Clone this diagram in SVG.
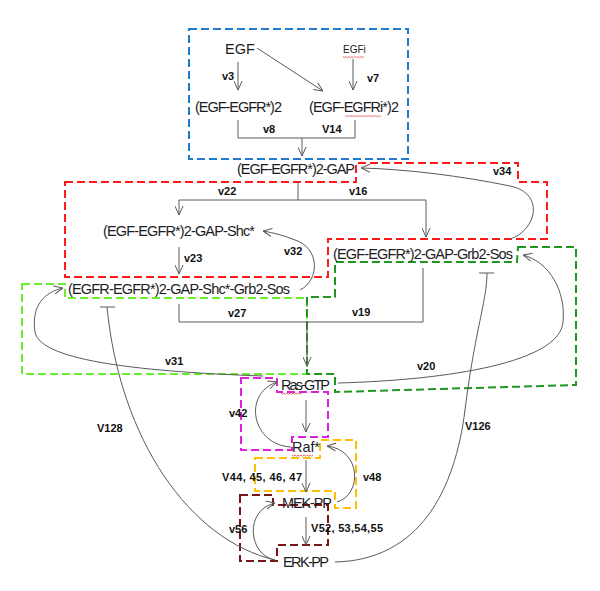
<svg xmlns="http://www.w3.org/2000/svg" width="600" height="591" viewBox="0 0 600 591">
<style>
.n{font-family:"Liberation Sans",Arial,sans-serif;font-size:14.5px;fill:#1c1c24}
.l{font-family:"Liberation Sans",Arial,sans-serif;font-size:11px;font-weight:bold;fill:#111}
.c{fill:none;stroke:#5a5a5a;stroke-width:1}
.b{fill:none;stroke-width:2;stroke-dasharray:8,4}
.sq{fill:none;stroke:#e03030;stroke-width:0.7}
</style>
<defs>
<marker id="a" viewBox="0 0 10 10" refX="10" refY="5" markerWidth="9" markerHeight="9" orient="auto" markerUnits="userSpaceOnUse">
<path d="M0,0.5 L10,5 L0,9.5" fill="none" stroke="#5a5a5a" stroke-width="1.1"/>
</marker>
</defs>
<rect width="600" height="591" fill="#fff"/>
<g id="modules">
<rect class="b" x="189" y="29" width="219" height="130" stroke="#1f7ad0"/>
<polygon class="b" stroke="#ff1a1a" points="65,182 356,182 356,163 518,163 518,182 547,182 547,239 328,239 328,277 65,277"/>
<polygon class="b" stroke="#66ee33" points="22,284 65,284 65,298 307,298 307,374 22,374"/>
<polygon class="b" stroke="#1f961f" points="518,247 576,247 576,385 335,392 335,374 307,374 307,297 335,297 335,262 517,262"/>
<polygon class="b" stroke="#dd22dd" points="241,378 277,378 277,392 328,392 328,437 292,437 292,450 241,450"/>
<polygon class="b" stroke="#ffc000" points="255,458 320,458 320,440 356,440 356,508 335,508 335,491 255,491"/>
<polygon class="b" stroke="#7a1515" points="240,495 273,495 273,505 328,505 328,545 277,545 277,561 240,561"/>
</g>
<g id="connectors">
<path class="c" d="M238,62 V90" marker-end="url(#a)"/>
<path class="c" d="M257,48 L323,91" marker-end="url(#a)"/>
<path class="c" d="M353,59 V90" marker-end="url(#a)"/>
<path class="c" d="M238,120 V138 H355 V120"/>
<path class="c" d="M302,138 V156" marker-end="url(#a)"/>
<path class="c" d="M298,182 V200 M179,200 H426"/>
<path class="c" d="M179,200 V215" marker-end="url(#a)"/>
<path class="c" d="M426,200 V237" marker-end="url(#a)"/>
<path class="c" d="M179,247 V274" marker-end="url(#a)"/>
<path class="c" d="M300,290 C320,280 320,248 295,240 C285,236 275,233 263,231" marker-end="url(#a)"/>
<path class="c" d="M510,239 C537,230 545,193 510,186 C462,176 405,169 361,168" marker-end="url(#a)"/>
<path class="c" d="M179,304 V322 H423 V268"/>
<path class="c" d="M307,322 V366" marker-end="url(#a)"/>
<path class="c" d="M263,376 C150,372 40,362 35,332 C31,305 45,292 63,288" marker-end="url(#a)"/>
<path class="c" d="M338,383 C450,380 560,362 563,322 C566,292 550,262 523,255" marker-end="url(#a)"/>
<path class="c" d="M107,307 C120,440 190,540 275,560"/>
<path class="c" d="M100,307 H115"/>
<path class="c" d="M335,562 C420,560 455,490 465,410 C475,330 487,300 487,273"/>
<path class="c" d="M479,273 H494"/>
<path class="c" d="M306,400 V432" marker-end="url(#a)"/>
<path class="c" d="M291,447 C252,445 242,394 277,382" marker-end="url(#a)"/>
<path class="c" d="M306,460 V492" marker-end="url(#a)"/>
<path class="c" d="M337,502 C362,495 362,450 327,446" marker-end="url(#a)"/>
<path class="c" d="M306,517 V545" marker-end="url(#a)"/>
<path class="c" d="M275,560 C248,555 244,510 275,503" marker-end="url(#a)"/>
</g>
<g id="labels">
<text class="l" x="222" y="80">v3</text>
<text class="l" x="367" y="82">v7</text>
<text class="l" x="263" y="133">v8</text>
<text class="l" x="322" y="133">V14</text>
<text class="l" x="218" y="195">v22</text>
<text class="l" x="349" y="195">v16</text>
<text class="l" x="493" y="175">v34</text>
<text class="l" x="184" y="262">v23</text>
<text class="l" x="284" y="255">v32</text>
<text class="l" x="228" y="317">v27</text>
<text class="l" x="352" y="316">v19</text>
<text class="l" x="165" y="365">v31</text>
<text class="l" x="417" y="370">v20</text>
<text class="l" x="229" y="417">v42</text>
<text class="l" x="222" y="481" textLength="80">V44, 45, 46, 47</text>
<text class="l" x="363" y="481">v48</text>
<text class="l" x="229" y="533">v56</text>
<text class="l" x="311" y="532" textLength="72">V52, 53,54,55</text>
<text class="l" x="97" y="432">V128</text>
<text class="l" x="465" y="430">V126</text>
</g>
<g id="EGF"><text class="n" x="225" y="54">EGF</text></g>
<g id="EGFi"><text class="n" x="343" y="53" style="font-size:10px">EGFi</text>
<path class="sq" d="M343,56.5 l1.5,1.2 l1.5,-1.2 l1.5,1.2 l1.5,-1.2 l1.5,1.2 l1.5,-1.2 l1.5,1.2 l1.5,-1.2 l1.5,1.2 l1.5,-1.2 l1.5,1.2 l1.5,-1.2 l1.5,1.2 l1.5,-1.2"/></g>
<g id="EGF-EGFR2"><text class="n" x="195" y="112" textLength="87">(EGF-EGFR*)2</text></g>
<g id="EGF-EGFRi2"><text class="n" x="309" y="112" textLength="90">(EGF-EGFRi*)2</text>
<path class="sq" d="M345,115.5 l1.5,1.2 l1.5,-1.2 l1.5,1.2 l1.5,-1.2 l1.5,1.2 l1.5,-1.2 l1.5,1.2 l1.5,-1.2 l1.5,1.2 l1.5,-1.2 l1.5,1.2 l1.5,-1.2 l1.5,1.2 l1.5,-1.2 l1.5,1.2 l1.5,-1.2 l1.5,1.2 l1.5,-1.2 l1.5,1.2 l1.5,-1.2 l1.5,1.2 l1.5,-1.2 l1.5,1.2 l1.5,-1.2"/></g>
<g id="GAP"><text class="n" x="237" y="174" textLength="118">(EGF-EGFR*)2-GAP</text></g>
<g id="GAP-Shc"><text class="n" x="103" y="236" textLength="152">(EGF-EGFR*)2-GAP-Shc*</text></g>
<g id="GAP-Grb2-Sos"><text class="n" x="333" y="259" textLength="180">(EGF-EGFR*)2-GAP-Grb2-Sos</text></g>
<g id="GAP-Shc-Grb2-Sos"><text class="n" x="68" y="294" textLength="222">(EGFR-EGFR*)2-GAP-Shc*-Grb2-Sos</text></g>
<g id="Ras-GTP"><text class="n" x="281" y="390" textLength="49">Ras-GTP</text>
<path class="sq" d="M281,393 l1.5,1.2 l1.5,-1.2 l1.5,1.2 l1.5,-1.2 l1.5,1.2 l1.5,-1.2 l1.5,1.2 l1.5,-1.2 l1.5,1.2 l1.5,-1.2 l1.5,1.2 l1.5,-1.2 l1.5,1.2 l1.5,-1.2"/></g>
<g id="Raf"><text class="n" x="292" y="452" textLength="28">Raf*</text>
<path class="sq" d="M292,455 l1.5,1.2 l1.5,-1.2 l1.5,1.2 l1.5,-1.2 l1.5,1.2 l1.5,-1.2 l1.5,1.2 l1.5,-1.2 l1.5,1.2 l1.5,-1.2 l1.5,1.2 l1.5,-1.2 l1.5,1.2 l1.5,-1.2"/></g>
<g id="MEK-PP"><text class="n" x="282" y="508" textLength="50">MEK-PP</text></g>
<g id="ERK-PP"><text class="n" x="283" y="567" textLength="46">ERK-PP</text></g>
</svg>
